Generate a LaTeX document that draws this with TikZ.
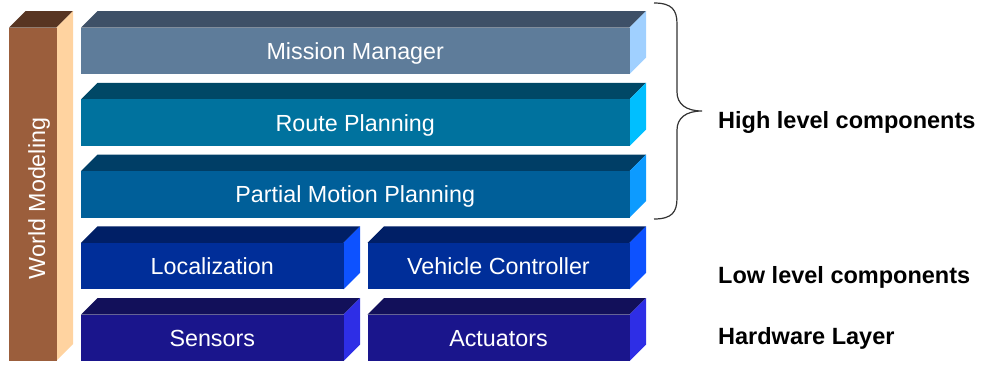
\documentclass[tikz,border=0pt]{standalone}
\usepackage{fontspec}
\setmainfont{Liberation Sans}
\definecolor{wmF}{HTML}{9B5E3C}\definecolor{wmT}{HTML}{583522}\definecolor{wmS}{HTML}{FFD3A0}
\definecolor{mmF}{HTML}{5E7C9A}\definecolor{mmT}{HTML}{3E5067}\definecolor{mmS}{HTML}{A0D0FF}
\definecolor{rpF}{HTML}{00729E}\definecolor{rpT}{HTML}{004866}\definecolor{rpS}{HTML}{00BFFF}
\definecolor{pmF}{HTML}{005F99}\definecolor{pmT}{HTML}{003E66}\definecolor{pmS}{HTML}{0D9BFF}
\definecolor{loF}{HTML}{002E99}\definecolor{loT}{HTML}{001F66}\definecolor{loS}{HTML}{0D52FF}
\definecolor{seF}{HTML}{1A158C}\definecolor{seT}{HTML}{12105A}\definecolor{seS}{HTML}{2E2EE6}
% #1 name, #2 x1, #3 x2, #4 y of top face, #5 y bottom, #6 colour prefix, #7 text
\newcommand\cubeblock[7]{%
  \fill[#6T] (#2,#4+16.5) -- (#2+16.5,#4) -- (#3+16.5,#4) -- (#3,#4+16.5) -- cycle;
  \fill[#6S] (#3,#4+16.5) -- (#3+16.5,#4) -- (#3+16.5,#5-16.5) -- (#3,#5) -- cycle;
  \fill[#6F] (#2,#4+16.5) rectangle (#3,#5);
  \node[blocktext] (#1) at ({(#2+#3)/2},{(#4+16.5+#5)/2+8.4}) {#7};
}
\tikzset{
  blocktext/.style={text=white, font=\fontsize{23.3}{28}\selectfont, inner sep=0pt, anchor=base},
  sidelabel/.style={text=black, font=\fontsize{23.5}{28}\selectfont\bfseries, anchor=base west, inner sep=0pt},
}
\begin{document}
\begin{tikzpicture}[x=1pt,y=-1pt]
\useasboundingbox (0,0) rectangle (982,367);
% world modeling bar
\cubeblock{wm}{9}{56.5}{11}{360.5}{wm}{}
\node[blocktext, rotate=90] (wmtext) at (45,198.5) {World Modeling};
% stacked layers
\cubeblock{mm}{81}{629.5}{11}{74}{mm}{Mission Manager}
\cubeblock{rp}{81}{629.5}{82.75}{146}{rp}{Route Planning}
\cubeblock{pm}{81}{629.5}{154.5}{217.5}{pm}{Partial Motion Planning}
\cubeblock{lo}{81}{343.5}{226.25}{289.25}{lo}{Localization}
\cubeblock{vc}{367.5}{629.5}{226.25}{289.25}{lo}{Vehicle Controller}
\cubeblock{se}{81}{343.5}{298}{361}{se}{Sensors}
\cubeblock{ac}{367.5}{629.5}{298}{361}{se}{Actuators}
% brace
\draw[line width=1.2pt, black!80] (654,3) .. controls (672,3) and (677,10) .. (677,24) -- (677,92)
  .. controls (677,104) and (686,111) .. (702,111)
  .. controls (686,111) and (677,118) .. (677,130) -- (677,198)
  .. controls (677,212) and (672,219) .. (654,219);
% labels
\node[sidelabel] (hl) at (718,128) {High level components};
\node[sidelabel] (ll) at (718,283) {Low level components};
\node[sidelabel] (hw) at (718,344.5) {Hardware Layer};
\end{tikzpicture}
\end{document}
